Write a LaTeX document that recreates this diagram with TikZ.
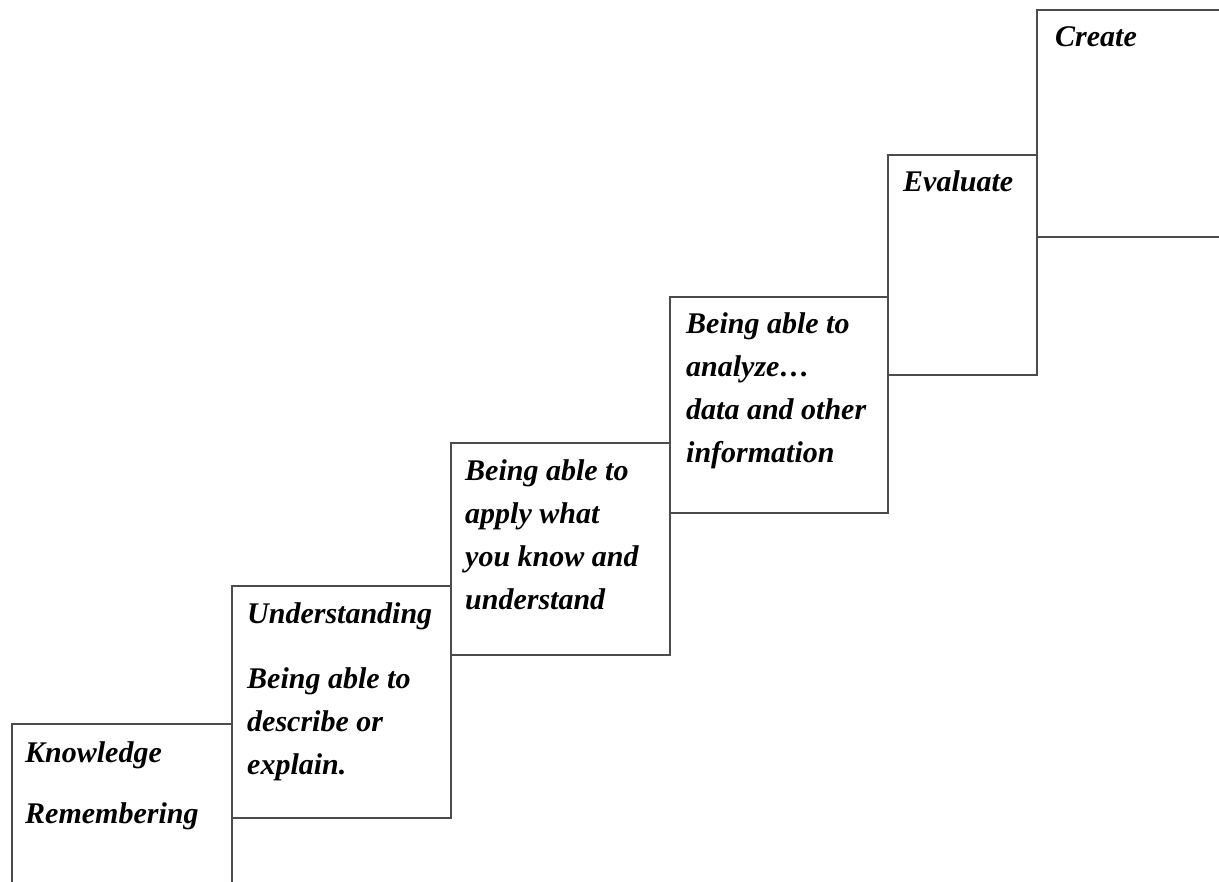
\documentclass[tikz,border=0pt]{standalone}
\usepackage{fontspec}
\setmainfont{Liberation Serif}
\begin{document}
\begin{tikzpicture}[x=1pt,y=-1pt,
  box/.style={draw=black!70,line width=1.6pt,rectangle,inner sep=0pt,anchor=north west,fill=white},
  txt/.style={anchor=base west,inner sep=0pt,align=left,font=\fontsize{30}{43}\selectfont\bfseries\itshape}]
\useasboundingbox (0,0) rectangle (1219,882);
\clip (0,0) rectangle (1219,882);
\node[box,minimum width=220pt,minimum height=200pt] (k) at (11,723) {};
\node[box,minimum width=219pt,minimum height=232pt] (u) at (231,585) {};
\node[box,minimum width=219pt,minimum height=212pt] (ap) at (450,442) {};
\node[box,minimum width=218pt,minimum height=216pt] (an) at (669,296) {};
\node[box,minimum width=149pt,minimum height=220pt] (ev) at (887,154) {};
\node[box,minimum width=200pt,minimum height=227pt] (cr) at (1036,9) {};
% base anchor of a multi-line node is the baseline of its last line
\node[txt] (tk) at (25,823) {Knowledge\\[18pt]Remembering};
\node[txt] (tu) at (247,774) {Understanding\\[22pt]Being able to\\describe or\\explain.};
\node[txt] (tap) at (465,609) {Being able to\\apply what\\you know and\\understand};
\node[txt] (tan) at (686,463) {Being able to\\analyze…\\data and other\\information};
\node[txt] (tev) at (903,192) {Evaluate};
\node[txt] (tcr) at (1055,47) {Create};
\end{tikzpicture}
\end{document}
